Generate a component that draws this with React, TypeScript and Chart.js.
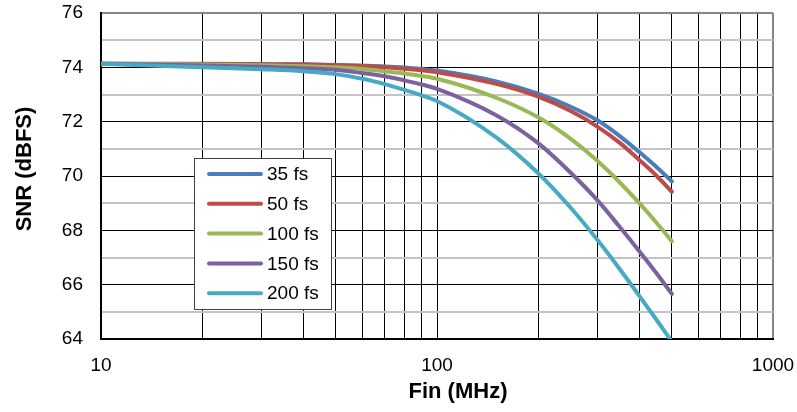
import React, { useEffect, useRef } from 'react';
import { Chart, registerables } from 'chart.js';

Chart.register(...registerables);

// ---- Data ----
const FREQ_MHZ = [10, 20, 30, 40, 50, 60, 70, 80, 90, 100, 150, 200, 250, 300, 350, 400, 450, 500];
const SNR_35FS = [74.13, 74.13, 74.12, 74.11, 74.09, 74.06, 74.03, 73.99, 73.94, 73.88, 73.48, 73.03, 72.55, 72.05, 71.47, 70.88, 70.33, 69.8];
const SNR_50FS = [74.13, 74.12, 74.11, 74.1, 74.08, 74.05, 74.0, 73.95, 73.89, 73.82, 73.39, 72.92, 72.39, 71.82, 71.22, 70.59, 70.01, 69.42];
const SNR_100FS = [74.13, 74.1, 74.08, 74.04, 74.0, 73.94, 73.85, 73.77, 73.68, 73.58, 72.88, 72.16, 71.37, 70.56, 69.76, 69.0, 68.28, 67.6];
const SNR_150FS = [74.13, 74.07, 74.02, 73.97, 73.91, 73.79, 73.67, 73.52, 73.37, 73.21, 72.24, 71.21, 70.12, 69.11, 68.12, 67.23, 66.42, 65.66];
const SNR_200FS = [74.13, 74.0, 73.93, 73.86, 73.75, 73.58, 73.38, 73.17, 72.97, 72.76, 71.42, 70.1, 68.83, 67.65, 66.57, 65.59, 64.71, 63.9];

const SERIES_LABELS = ['35 fs', '50 fs', '100 fs', '150 fs', '200 fs'];
const SERIES_COLORS = ['#4A7EBB', '#BE4B48', '#98B954', '#7D60A0', '#46AAC5'];

const X_GRID_VALUES = [10, 20, 30, 40, 50, 60, 70, 80, 90, 100, 200, 300, 400, 500, 600, 700, 800, 900, 1000];
const X_TICK_LABELS = [10, 100, 1000];
const Y_MIN = 64;
const Y_MAX = 76;
const Y_TICK_LABELS = [64, 66, 68, 70, 72, 74, 76];
const X_TITLE = 'Fin (MHz)';
const Y_TITLE = 'SNR (dBFS)';

const FONT = '"Liberation Sans", Arial, sans-serif';

const boxLegend = {
  id: 'boxLegend',
  afterDatasetsDraw(chart: any) {
    const { ctx, chartArea } = chart;
    const x0 = chartArea.left + 93;
    const y0 = chartArea.top + 145;
    const w = 137;
    const h = 151;
    ctx.save();
    ctx.fillStyle = '#ffffff';
    ctx.fillRect(x0, y0, w, h);
    ctx.strokeStyle = '#404040';
    ctx.lineWidth = 1;
    ctx.strokeRect(x0 + 0.5, y0 + 0.5, w, h);
    chart.data.datasets.forEach((ds: any, i: number) => {
      const y = y0 + 16 + i * 29.8;
      ctx.strokeStyle = ds.borderColor;
      ctx.lineWidth = 4;
      ctx.lineCap = 'round';
      ctx.beginPath();
      ctx.moveTo(x0 + 15, y);
      ctx.lineTo(x0 + 67, y);
      ctx.stroke();
      ctx.fillStyle = '#000000';
      ctx.font = `19px ${FONT}`;
      ctx.textBaseline = 'middle';
      ctx.textAlign = 'left';
      ctx.fillText(ds.label, x0 + 73, y + 1);
    });
    ctx.restore();
  },
};

const axisTitles = {
  id: 'axisTitles',
  afterDraw(chart: any) {
    const { ctx, chartArea } = chart;
    ctx.save();
    ctx.fillStyle = '#000000';
    ctx.font = `bold 22px ${FONT}`;
    ctx.textAlign = 'center';
    ctx.textBaseline = 'middle';
    ctx.fillText(X_TITLE, chartArea.left + 357, chartArea.bottom + 53);
    ctx.translate(25, chartArea.top + 156);
    ctx.rotate(-Math.PI / 2);
    ctx.fillText(Y_TITLE, 0, 0);
    ctx.restore();
  },
};

const zeroPad = (scale: any) => {
  scale.paddingTop = 0;
  scale.paddingBottom = 0;
  scale.paddingLeft = 0;
  scale.paddingRight = 0;
};

export default function App() {
  const ref = useRef<HTMLCanvasElement | null>(null);

  useEffect(() => {
    document.body.style.margin = '0';
    const series = [SNR_35FS, SNR_50FS, SNR_100FS, SNR_150FS, SNR_200FS];
    const chart = new Chart(ref.current as HTMLCanvasElement, {
      type: 'line',
      data: {
        datasets: series.map((vals, i) => ({
          label: SERIES_LABELS[i],
          data: FREQ_MHZ.map((f, j) => ({ x: f, y: vals[j] })),
          borderColor: SERIES_COLORS[i],
          backgroundColor: SERIES_COLORS[i],
          borderWidth: 4,
          pointRadius: 0,
          fill: false,
          cubicInterpolationMode: 'monotone',
          borderCapStyle: 'round',
          borderJoinStyle: 'round',
          order: series.length - i,
        })),
      },
      options: {
        responsive: false,
        animation: false,
        devicePixelRatio: 1,
        layout: { padding: { left: 0, top: 13, right: 24, bottom: 0 } },
        plugins: {
          legend: { display: false },
          tooltip: { enabled: false },
        },
        scales: {
          x: {
            type: 'logarithmic',
            min: 10,
            max: 1000,
            afterBuildTicks: (scale: any) => {
              scale.ticks = X_GRID_VALUES.map((v) => ({ value: v }));
            },
            afterFit: (scale: any) => {
              scale.height = 73;
              zeroPad(scale);
            },
            ticks: {
              autoSkip: false,
              maxRotation: 0,
              padding: 15,
              color: '#000000',
              font: { family: FONT, size: 19 },
              callback: (v: any) => (X_TICK_LABELS.includes(Number(v)) ? String(v) : ''),
            },
            grid: {
              drawTicks: false,
              color: (c: any) => (c.tick && c.tick.value === 1000 ? '#868686' : '#000000'),
              lineWidth: (c: any) => (c.tick && c.tick.value === 1000 ? 2 : 1),
            },
            border: { color: '#000000', width: 2 },
          },
          y: {
            min: Y_MIN,
            max: Y_MAX,
            afterFit: (scale: any) => {
              scale.width = 101;
              zeroPad(scale);
            },
            ticks: {
              stepSize: 1,
              padding: 18,
              color: '#000000',
              font: { family: FONT, size: 19 },
              callback: (v: any) => (Y_TICK_LABELS.includes(Number(v)) ? String(v) : ''),
            },
            grid: {
              drawTicks: false,
              color: (c: any) => {
                const v = c.tick ? c.tick.value : 0;
                if (v === Y_MAX) return '#868686';
                return v % 2 === 0 ? '#000000' : '#C4C4C4';
              },
              lineWidth: (c: any) => {
                const v = c.tick ? c.tick.value : 0;
                if (v === Y_MAX) return 2;
                return v % 2 === 0 ? 1 : 2;
              },
            },
            border: { color: '#000000', width: 2 },
          },
        },
      },
      plugins: [boxLegend, axisTitles],
    } as any);
    return () => chart.destroy();
  }, []);

  return (
    <div style={{ position: 'absolute', left: 0, top: 0, width: 797, height: 412, background: '#fff' }}>
      <canvas ref={ref} width={797} height={412} />
    </div>
  );
}
